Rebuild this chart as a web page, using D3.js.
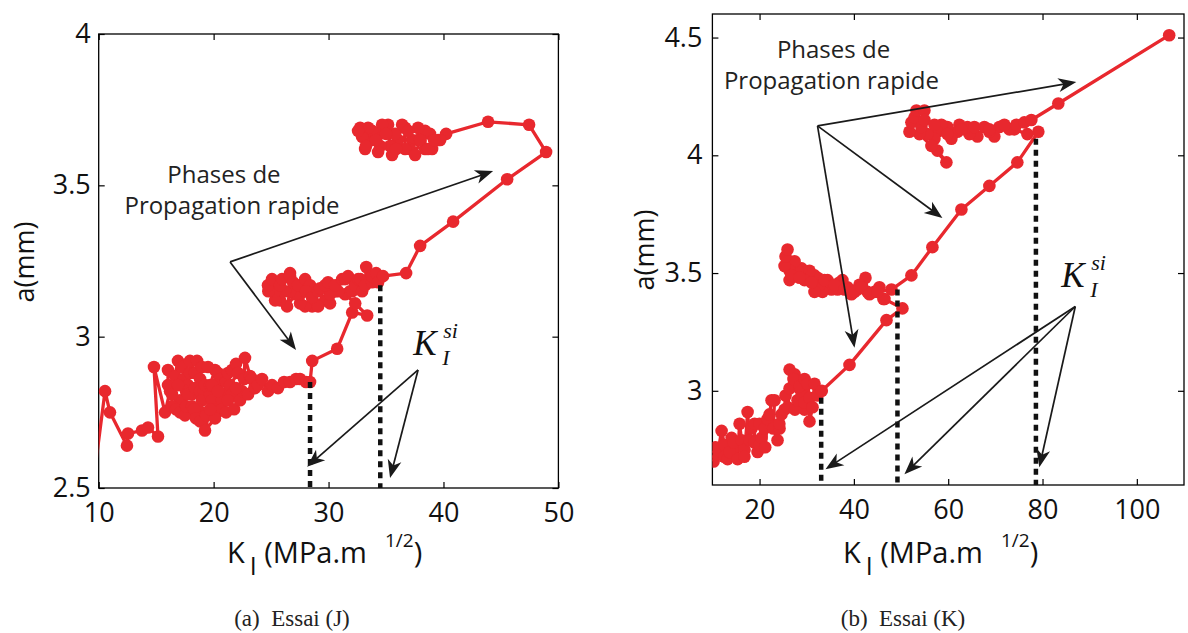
<!DOCTYPE html>
<html><head><meta charset="utf-8">
<script src="https://cdn.jsdelivr.net/npm/d3@7"></script>
<style>body{margin:0;background:#fff}svg{display:block}</style>
</head><body>
<svg id="c" width="1188" height="633"></svg>
<script>
// ---------- Data: Essai (J)  [K_I (MPa.m^1/2), a (mm)] ----------
const essaiJ = [
[9.3,2.45],[10.55,2.82],[10.98,2.75],[12.46,2.64],[12.55,2.68],[13.77,2.69],[14.29,2.70],[15.16,2.67],[14.81,2.90],[15.77,2.75],
[16.21,2.82],[16.03,2.84],[16.03,2.89],[16.64,2.87],[16.90,2.92],[17.25,2.90],[17.42,2.86],[17.77,2.84],[17.08,2.79],[16.38,2.81],[16.38,2.77],[16.73,2.76],[17.08,2.75],[17.51,2.74],[17.60,2.77],[17.60,2.82],[18.12,2.81],[17.77,2.81],[16.90,2.84],[17.94,2.88],[17.94,2.92],[18.38,2.88],[18.56,2.92],[18.99,2.90],[18.82,2.86],[18.38,2.83],[18.82,2.82],[19.16,2.82],[18.99,2.79],[18.64,2.76],[18.12,2.77],[18.30,2.76],[18.47,2.73],[18.82,2.72],[19.34,2.74],[19.69,2.81],[19.86,2.79],[19.25,2.84],[19.69,2.84],[20.12,2.89],[19.51,2.90],[20.38,2.88],[20.56,2.86],[20.21,2.84],[19.86,2.84],[20.91,2.81],[20.73,2.79],[20.04,2.76],[20.73,2.76],[21.08,2.75],[20.12,2.73],[19.25,2.69],[19.69,2.76],[20.38,2.82],[21.08,2.85],[21.25,2.88],[21.60,2.89],[21.95,2.91],[22.12,2.88],[21.43,2.84],[21.60,2.81],[21.25,2.79],[21.78,2.76],[22.30,2.79],[22.47,2.82],[21.95,2.83],[22.65,2.86],[22.73,2.93],[23.17,2.87],[23.34,2.86],[23.00,2.81],[23.60,2.83],[23.86,2.84],[24.21,2.86],[24.73,2.82],[25.08,2.84],[25.60,2.83],[26.13,2.85],[26.65,2.85],[27.17,2.86],[27.52,2.86],[28.04,2.85],[28.39,2.85],
[28.58,2.92],[30.75,2.96],[32.06,3.08],[33.36,3.07],
[32.32,3.11],[31.44,3.14],[30.57,3.15],[31.87,3.15],[30.83,3.15],[29.70,3.12],[30.13,3.11],[30.13,3.14],[28.83,3.11],[28.57,3.10],[29.09,3.10],[27.96,3.10],[27.52,3.11],[27.52,3.14],[27.09,3.14],[26.39,3.10],[26.65,3.15],[26.21,3.15],[25.78,3.12],[25.35,3.12],[25.34,3.15],[24.76,3.15],[24.73,3.17],[25.08,3.19],[25.78,3.17],[25.95,3.19],[26.65,3.21],[26.65,3.20],[26.91,3.18],[27.35,3.17],[27.96,3.19],[28.39,3.17],[28.04,3.15],[28.56,3.13],[29.09,3.15],[29.26,3.16],[29.70,3.17],[29.96,3.18],[30.57,3.17],[31.18,3.19],[31.44,3.19],[31.70,3.20],[32.05,3.15],[32.32,3.17],[32.58,3.19],[32.92,3.15],[32.76,3.19],[33.18,3.17],[33.28,3.23],[33.79,3.18],[33.79,3.20],[34.14,3.21],[34.31,3.18],[34.74,3.20],
[36.75,3.21],[37.97,3.30],[40.84,3.38],[45.54,3.52],[48.93,3.61],[47.45,3.70],[43.88,3.71],[40.23,3.67],
[39.53,3.65],[39.71,3.65],[38.83,3.67],[39.01,3.62],[38.40,3.62],[38.40,3.68],[37.79,3.69],[37.79,3.65],[37.27,3.65],[37.09,3.62],[36.66,3.62],[36.66,3.69],[36.40,3.70],[36.05,3.65],[35.79,3.67],[35.53,3.60],[35.35,3.63],[35.18,3.70],[34.66,3.70],[34.49,3.63],[34.31,3.61],[34.31,3.67],[33.79,3.65],[33.79,3.68],[33.44,3.69],[33.18,3.62],[32.92,3.66],[32.75,3.69],[32.57,3.68],[33.26,3.63],[34.13,3.65],[35.00,3.67],[35.87,3.62],[36.92,3.68],[37.53,3.60],[37.97,3.65],[38.66,3.62],[39.18,3.65]
];
const kSiJ = [28.39, 34.5];
const aSiJ = [2.85, 3.17];
const xTicksJ = [10, 20, 30, 40, 50];
const yTicksJ = [2.5, 3, 3.5, 4];

// ---------- Data: Essai (K) ----------
const essaiK = [
[10.25,2.70],[10.68,2.76],[11.10,2.73],[11.95,2.83],[12.58,2.77],[12.50,2.72],[13.22,2.71],[13.64,2.74],[14.07,2.80],[14.50,2.78],[15.34,2.71],[15.76,2.86],[16.19,2.79],[16.82,2.75],[16.80,2.72],[17.46,2.91],[17.88,2.79],[18.31,2.84],[18.94,2.86],[18.90,2.78],[19.58,2.74],[20.00,2.77],[20.42,2.80],[20.00,2.86],[21.06,2.84],[21.20,2.76],[21.69,2.88],[22.12,2.90],[22.54,2.96],[23.18,2.96],[22.90,2.84],[23.81,2.79],[24.24,2.84],[24.20,2.86],[24.66,2.90],[25.30,2.92],[25.51,2.98],[26.00,2.93],[26.36,3.01],[26.36,3.09],[27.42,3.07],[27.20,3.05],[28.47,3.01],[27.50,2.92],[28.05,2.96],[28.90,2.98],[29.53,2.92],[28.50,3.02],[29.53,3.05],[29.50,2.95],[30.17,3.03],[30.59,2.97],[30.59,2.87],[31.23,2.93],[31.65,3.03],[32.29,2.98],[33.20,3.00],
[39.07,3.11],[46.91,3.30],[50.30,3.35],
[46.48,3.39],[46.27,3.39],[45.42,3.44],[44.36,3.42],[42.88,3.42],[42.46,3.48],[41.19,3.45],[40.76,3.43],[39.49,3.41],[38.64,3.44],[37.58,3.47],[36.95,3.46],[36.53,3.43],[35.25,3.43],[34.41,3.47],[33.35,3.42],[32.71,3.45],[32.29,3.48],[31.65,3.49],[31.65,3.42],[30.59,3.51],[29.53,3.47],[28.90,3.52],[28.05,3.51],[27.42,3.55],[26.36,3.51],[26.36,3.47],[25.30,3.53],[25.51,3.57],[25.93,3.60],[26.78,3.49],[28.47,3.48],[31.02,3.46],[33.77,3.47],[35.89,3.45],[38.01,3.43],[40.13,3.42],[41.61,3.44],[43.31,3.41],[45.00,3.42],[47.97,3.43],
[52.20,3.49],[56.65,3.61],[62.80,3.77],[68.73,3.87],[74.66,3.97],[79.11,4.10],
[76.78,4.09],[74.03,4.11],[72.97,4.11],[70.85,4.12],[69.79,4.08],[68.73,4.10],[67.67,4.12],[66.19,4.08],[64.49,4.09],[64.07,4.12],[62.37,4.13],[61.95,4.10],[60.68,4.07],[59.83,4.12],[58.56,4.13],[57.71,4.10],[57.08,4.07],[55.59,4.09],[57.71,4.02],[59.62,3.97],[56.44,4.04],[53.90,4.09],[51.78,4.10],[52.20,4.14],[52.84,4.16],[53.26,4.19],[54.96,4.19],[54.32,4.12],[54.96,4.15],[57.08,4.13],[59.83,4.09],[62.80,4.11],[65.55,4.12],[68.73,4.11],[71.91,4.13],[74.45,4.13],[76.14,4.14],[77.63,4.15],[83.35,4.22],[106.86,4.51]
];
const kSiK = [33.07, 49.24, 78.6];
const aSiK = [2.97, 3.43, 4.07];
const xTicksK = [20, 40, 60, 80, 100];
const yTicksK = [3, 3.5, 4, 4.5];

const RED = "#e8282e";
const FONT = "'Open Sans', sans-serif";
const svg = d3.select("#c");

function arrow(g, x1, y1, x2, y2) {
  const L = 18, W = 7, N = 5;
  const ang = Math.atan2(y2 - y1, x2 - x1);
  const ux = Math.cos(ang), uy = Math.sin(ang), px = -uy, py = ux;
  const bx = x2 - ux * L, by = y2 - uy * L;
  g.append("line").attr("x1", x1).attr("y1", y1)
    .attr("x2", x2 - ux * 8).attr("y2", y2 - uy * 8)
    .attr("stroke", "#1a1a1a").attr("stroke-width", 1.7);
  const pts = [[x2, y2], [bx + px * W, by + py * W], [x2 - ux * (L - N), y2 - uy * (L - N)], [bx - px * W, by - py * W]];
  g.append("path").attr("d", "M" + pts.map(p => p.join(",")).join("L") + "Z").attr("fill", "#1a1a1a");
}

function panel(cfg) {
  const g = svg.append("g");
  const x = d3.scaleLinear().domain(cfg.xDom).range([cfg.left, cfg.right]);
  const y = d3.scaleLinear().domain(cfg.yDom).range([cfg.bottom, cfg.top]);
  const id = "clip" + cfg.name;
  svg.append("clipPath").attr("id", id).append("rect")
    .attr("x", cfg.left).attr("y", cfg.top).attr("width", cfg.right - cfg.left).attr("height", cfg.bottom - cfg.top);

  const fmt = d => String(d);
  const ax = g.append("g").attr("transform", `translate(0,${cfg.bottom})`)
    .call(d3.axisBottom(x).tickValues(cfg.xTicks).tickFormat(fmt).tickSizeInner(-6).tickSizeOuter(0).tickPadding(15));
  const axt = g.append("g").attr("transform", `translate(0,${cfg.top})`)
    .call(d3.axisTop(x).tickValues(cfg.xTicks).tickFormat("").tickSizeInner(-6).tickSizeOuter(0));
  const ay = g.append("g").attr("transform", `translate(${cfg.left},0)`)
    .call(d3.axisLeft(y).tickValues(cfg.yTicks).tickFormat(fmt).tickSizeInner(-6).tickSizeOuter(0).tickPadding(cfg.yPad));
  const ayr = g.append("g").attr("transform", `translate(${cfg.right},0)`)
    .call(d3.axisRight(y).tickValues(cfg.yTicks).tickFormat("").tickSizeInner(-6).tickSizeOuter(0));
  [ax, axt, ay, ayr].forEach(a => {
    a.select(".domain").remove();
    a.selectAll("line").attr("stroke", "#000").attr("stroke-width", 1.2);
    a.selectAll("text").attr("font-family", FONT).attr("font-size", 27).attr("fill", "#111");
  });
  g.append("rect").attr("x", cfg.left).attr("y", cfg.top)
    .attr("width", cfg.right - cfg.left).attr("height", cfg.bottom - cfg.top)
    .attr("fill", "none").attr("stroke", "#000").attr("stroke-width", 1.3);

  const dg = g.append("g").attr("clip-path", `url(#${id})`);
  dg.append("path").datum(cfg.data)
    .attr("d", d3.line().x(d => x(d[0])).y(d => y(d[1])))
    .attr("fill", "none").attr("stroke", RED).attr("stroke-width", 3.3).attr("stroke-linejoin", "round");
  dg.selectAll("circle").data(cfg.data).join("circle")
    .attr("cx", d => x(d[0])).attr("cy", d => y(d[1])).attr("r", 6.3).attr("fill", RED);

  cfg.kSi.forEach((k, i) => {
    g.append("line").attr("x1", x(k)).attr("x2", x(k))
      .attr("y1", y(cfg.aSi[i])).attr("y2", cfg.bottom)
      .attr("stroke", "#111").attr("stroke-width", 4.5).attr("stroke-dasharray", "6,5");
  });

  const ann = g.append("g");
  cfg.arrows.forEach(a => arrow(ann, x(a[0]), y(a[1]), x(a[2]), y(a[3])));
  const t = ann.append("text").attr("font-family", FONT).attr("font-size", 24).attr("fill", "#222").attr("text-anchor", "middle");
  t.append("tspan").attr("x", x(cfg.phase[0])).attr("y", y(cfg.phase[1])).text("Phases de");
  t.append("tspan").attr("x", x(cfg.phase[2])).attr("y", y(cfg.phase[3])).text("Propagation rapide");

  const kx = x(cfg.kLab[0]), ky = y(cfg.kLab[1]);
  const serif = "'Liberation Serif', serif";
  ann.append("text").attr("font-family", serif).attr("font-style", "italic").attr("font-size", 35).attr("fill", "#111")
    .attr("x", kx).attr("y", ky).text("K");
  ann.append("text").attr("font-family", serif).attr("font-style", "italic").attr("font-size", 22).attr("fill", "#111")
    .attr("x", kx + 30).attr("y", ky - 17).text("si");
  ann.append("text").attr("font-family", serif).attr("font-style", "italic").attr("font-size", 22).attr("fill", "#111")
    .attr("x", kx + 29).attr("y", ky + 10).text("I");

  const xl = g.append("text").attr("font-family", FONT).attr("font-size", 29).attr("fill", "#111")
    .attr("x", cfg.xLab[0]).attr("y", cfg.xLab[1]);
  xl.append("tspan").text("K");
  xl.append("tspan").attr("font-size", 25).attr("dx", 5).attr("dy", 12).text("I");
  xl.append("tspan").attr("dy", -12).text(" (MPa.m");
  xl.append("tspan").attr("font-size", 19).attr("dx", 18).attr("dy", -16).text("1/2");
  xl.append("tspan").attr("dy", 16).text(")");
  g.append("text").attr("font-family", FONT).attr("font-size", 27).attr("fill", "#111")
    .attr("text-anchor", "middle").attr("transform", `translate(${cfg.yLab[0]},${cfg.yLab[1]}) rotate(-90)`).text("a(mm)");
  g.append("text").attr("font-family", "'Liberation Serif', 'Times New Roman', serif").attr("font-size", 23).attr("fill", "#222")
    .attr("text-anchor", "middle").attr("x", cfg.cap[0]).attr("y", cfg.cap[1]).text(cfg.caption);
}

panel({
  name: "J", data: essaiJ, kSi: kSiJ, aSi: aSiJ, xTicks: xTicksJ, yTicks: yTicksJ,
  xDom: [10, 50], yDom: [2.5, 4], left: 98.7, right: 558.4, top: 34, bottom: 488, yPad: 8,
  arrows: [[21.43, 3.247, 44.32, 3.547], [21.43, 3.247, 27.17, 2.956], [37.79, 2.89, 28.13, 2.57], [37.79, 2.89, 35.35, 2.533]],
  phase: [20.9, 3.508, 21.6, 3.405], kLab: [37.36, 2.94],
  xLab: [227, 563], yLab: [34, 262], cap: [292, 626], caption: "(a)\u2002Essai (J)"
});
panel({
  name: "K", data: essaiK, kSi: kSiK, aSi: aSiK, xTicks: xTicksK, yTicks: yTicksK,
  xDom: [10, 110], yDom: [2.6, 4.6], left: 712.4, right: 1184, top: 14, bottom: 485, yPad: 10,
  arrows: [[32.29, 4.125, 87.16, 4.311], [32.29, 4.125, 58.77, 3.734], [32.29, 4.125, 40.13, 3.183],
           [86.95, 3.358, 33.98, 2.667], [86.95, 3.358, 50.72, 2.646], [86.95, 3.358, 79.32, 2.675]],
  phase: [35.68, 4.413, 35.25, 4.281], kLab: [83.98, 3.44],
  xLab: [843, 563], yLab: [654, 250], cap: [903, 626], caption: "(b)\u2002Essai (K)"
});
</script>
</body></html>
